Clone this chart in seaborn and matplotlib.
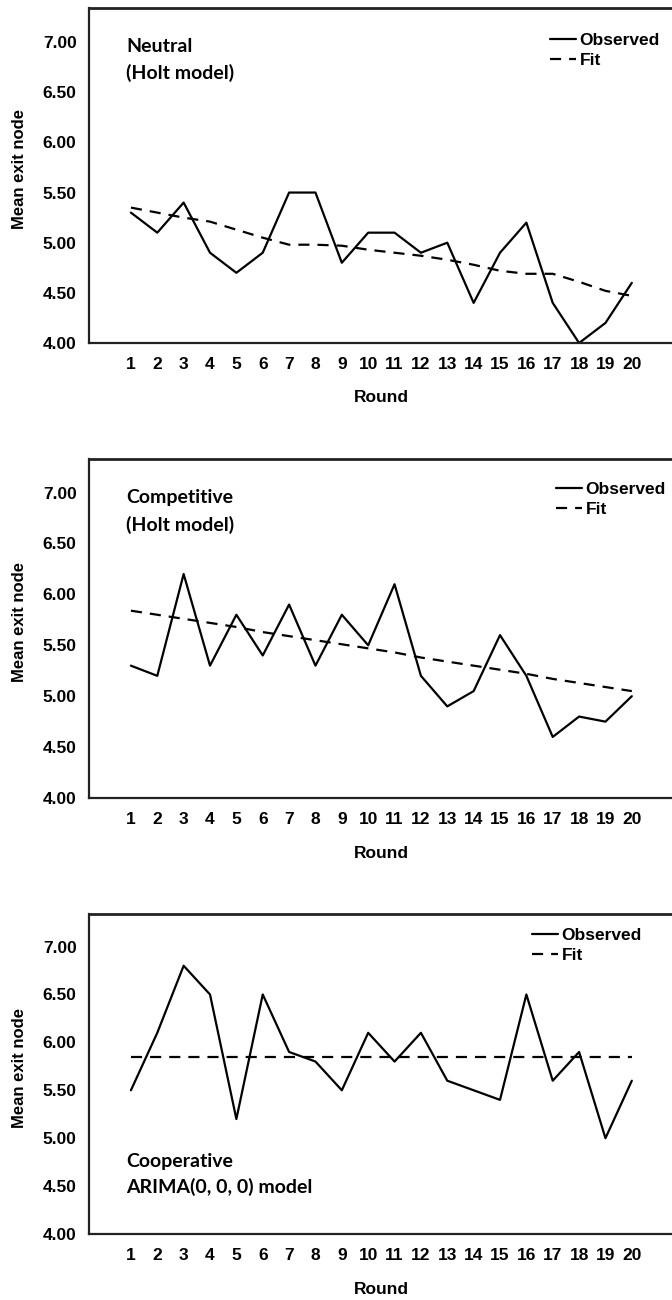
import matplotlib
matplotlib.use("Agg")
import matplotlib.pyplot as plt
import pandas as pd
import seaborn as sns
from matplotlib.lines import Line2D

# ---- data ----
rounds = list(range(1, 21))

neutral_obs = [5.30, 5.10, 5.40, 4.90, 4.70, 4.90, 5.50, 5.50, 4.80, 5.10,
               5.10, 4.90, 5.00, 4.40, 4.90, 5.20, 4.40, 4.00, 4.20, 4.60]
neutral_fit = [5.35, 5.30, 5.25, 5.21, 5.13, 5.05, 4.98, 4.98, 4.97, 4.93,
               4.90, 4.87, 4.83, 4.78, 4.72, 4.69, 4.69, 4.61, 4.52, 4.47]

competitive_obs = [5.30, 5.20, 6.20, 5.30, 5.80, 5.40, 5.90, 5.30, 5.80, 5.50,
                   6.10, 5.20, 4.90, 5.05, 5.60, 5.20, 4.60, 4.80, 4.75, 5.00]
competitive_fit = [5.84, 5.80, 5.76, 5.72, 5.68, 5.63, 5.59, 5.55, 5.51, 5.47,
                   5.43, 5.38, 5.34, 5.30, 5.26, 5.22, 5.17, 5.13, 5.09, 5.05]

cooperative_obs = [5.50, 6.10, 6.80, 6.50, 5.20, 6.50, 5.90, 5.80, 5.50, 6.10,
                   5.80, 6.10, 5.60, 5.50, 5.40, 6.50, 5.60, 5.90, 5.00, 5.60]
cooperative_fit = [5.85, 5.85, 5.85, 5.85, 5.85, 5.85, 5.85, 5.85, 5.85, 5.85,
                   5.85, 5.85, 5.85, 5.85, 5.85, 5.85, 5.85, 5.85, 5.85, 5.85]

y_ticks = [4.0, 4.5, 5.0, 5.5, 6.0, 6.5, 7.0]
series_names = ["Observed", "Fit"]
notes = [("Neutral", "(Holt model)"),
         ("Competitive", "(Holt model)"),
         ("Cooperative", "ARIMA(0, 0, 0) model")]

# ---- layout (pixels in a 672 x 1300 canvas) ----
W, H = 672, 1300
AX_LEFT, AX_RIGHT = 89, 674
FIT_DASH = (5, 3.6)

panels = [
    dict(obs=neutral_obs, fit=neutral_fit, top=8, bottom=343, ymax=7.34,
         note_y=(47, 73), leg=(550, 33)),
    dict(obs=competitive_obs, fit=competitive_fit, top=459, bottom=798, ymax=7.33,
         note_y=(498, 525), leg=(556, 482)),
    dict(obs=cooperative_obs, fit=cooperative_fit, top=914, bottom=1234, ymax=7.34,
         note_y=(1162, 1187), leg=(532, 928)),
]


def fx(px):
    return px / W


def fy(py):
    return 1 - py / H


sns.set_theme(style="white")
plt.rcParams["font.family"] = ["Liberation Sans", "DejaVu Sans"]
plt.rcParams["text.color"] = "black"
plt.rcParams["axes.labelcolor"] = "black"
plt.rcParams["xtick.color"] = "black"
plt.rcParams["ytick.color"] = "black"

fig = plt.figure(figsize=(W / 100, H / 100), dpi=100)

for (line1, line2), p in zip(notes, panels):
    ax = fig.add_axes([fx(AX_LEFT), fy(p["bottom"]),
                       fx(AX_RIGHT) - fx(AX_LEFT), (p["bottom"] - p["top"]) / H])

    df = pd.DataFrame({
        "Round": rounds + rounds,
        "Mean exit node": p["obs"] + p["fit"],
        "Series": [series_names[0]] * len(rounds) + [series_names[1]] * len(rounds),
    })
    sns.lineplot(data=df, x="Round", y="Mean exit node", style="Series",
                 style_order=series_names,
                 dashes={"Observed": "", "Fit": FIT_DASH},
                 color="black", linewidth=1.6, estimator=None, sort=False,
                 legend=False, ax=ax)

    ax.set_xlim(-0.59, 21.6)
    ax.set_ylim(4.0, p["ymax"])
    ax.set_xticks(rounds)
    ax.set_xticklabels([str(r) for r in rounds], fontweight="bold")
    ax.set_yticks(y_ticks)
    ax.set_yticklabels([f"{v:.2f}" for v in y_ticks], fontweight="bold")

    for side in ["left", "bottom", "top", "right"]:
        ax.spines[side].set_visible(True)
        ax.spines[side].set_color("#222222")
        ax.spines[side].set_linewidth(1.6)
    ax.spines["top"].set_linewidth(2.0)

    ax.tick_params(axis="both", direction="out", length=7, width=1.3,
                   color="#222222", labelsize=12.5, labelcolor="black")
    ax.tick_params(axis="x", pad=3)
    ax.tick_params(axis="y", pad=2)

    ax.set_xlabel("Round", fontsize=12.5, fontweight="bold", color="black")
    ax.xaxis.label.set_va("center")
    ax.xaxis.set_label_coords(0.5, -55 / (p["bottom"] - p["top"]))
    ax.set_ylabel("Mean exit node", fontsize=12, fontweight="bold", color="black")
    ax.yaxis.label.set_va("center")
    ax.yaxis.set_label_coords(-69 / (AX_RIGHT - AX_LEFT), 0.52)

    handles = [Line2D([], [], color="black", lw=1.6, ls="-"),
               Line2D([], [], color="black", lw=1.6, ls=(0, FIT_DASH))]
    leg = ax.legend(handles, series_names, loc="upper left",
                    bbox_to_anchor=(fx(p["leg"][0]), fy(p["leg"][1])),
                    bbox_transform=fig.transFigure, frameon=False, borderpad=0,
                    borderaxespad=0, handlelength=1.5, handletextpad=0.2,
                    labelspacing=0.25, prop={"size": 12.5, "weight": "bold"})
    for t in leg.get_texts():
        t.set_color("black")

    for txt, ty in zip((line1, line2), p["note_y"]):
        fig.text(fx(126), fy(ty), txt, ha="left", va="center", color="black",
                 fontsize=14, fontweight="bold", family=["Lato", "DejaVu Sans"])

fig.savefig("out.png", dpi=100)
